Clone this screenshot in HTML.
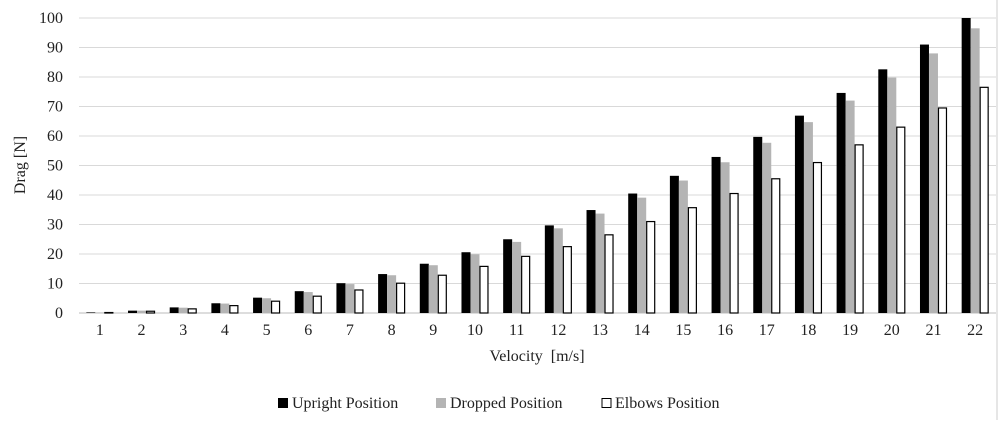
<!DOCTYPE html>
<html><head><meta charset="utf-8"><style>
body{margin:0;background:#fff;}
svg text{font-family:"Liberation Serif",serif;font-size:16px;fill:#222;}
</style></head><body>
<svg id="chart" width="1000" height="420" xmlns="http://www.w3.org/2000/svg">
<g id="grid"></g><g id="bars"></g><g id="labels"></g>
<text x="25" y="165" text-anchor="middle" transform="rotate(-90 25 165)">Drag [N]</text>
<text x="537" y="361" text-anchor="middle" xml:space="preserve">Velocity  [m/s]</text>
<g>
<rect x="278" y="398" width="10" height="10" fill="#000"/>
<text x="292" y="408">Upright Position</text>
<rect x="436" y="398" width="10" height="10" fill="#b4b4b4"/>
<text x="450" y="408">Dropped Position</text>
<rect x="602" y="398.5" width="9" height="9" fill="#fff" stroke="#000"/>
<text x="615" y="408">Elbows Position</text>
</g>
</svg>
<script>
const categories=[1,2,3,4,5,6,7,8,9,10,11,12,13,14,15,16,17,18,19,20,21,22];
const upright=[0.2,0.8,1.9,3.3,5.2,7.4,10.1,13.2,16.7,20.6,25,29.7,34.9,40.5,46.5,52.9,59.7,66.9,74.6,82.6,91,100];
const dropped=[0.2,0.8,1.8,3.2,5,7.1,9.8,12.8,16.2,19.9,24.1,28.7,33.7,39.1,44.9,51.1,57.7,64.7,72,79.8,88,96.5];
const elbows=[0.16,0.6,1.4,2.5,4,5.7,7.8,10.1,12.8,15.8,19.2,22.5,26.5,31,35.7,40.5,45.5,51,57,63,69.5,76.5];
const yTicks=[0,10,20,30,40,50,60,70,80,90,100];
const NS="http://www.w3.org/2000/svg";
const left=79,right=996,y0=313,y100=18;
const step=(right-left)/categories.length;
const y=v=>y0-(v/100)*(y0-y100);
const xc=i=>left+step*(i+0.5);
function mk(t,a,p){const e=document.createElementNS(NS,t);for(const k in a)e.setAttribute(k,a[k]);p.appendChild(e);return e;}
const grid=document.getElementById('grid'),bars=document.getElementById('bars'),labels=document.getElementById('labels');
yTicks.forEach(t=>{
  const l=mk('line',{x1:left,x2:right,y1:y(t),y2:y(t),stroke:t===0?'#bbb':'#d9d9d9','stroke-width':1},grid);
  
  
  const tx=mk('text',{x:63,y:y(t)+5,'text-anchor':'end'},labels);
  tx.textContent=t;
  
  
});
const rb=mk('line',{x1:997,x2:997,y1:0,y2:420,stroke:'#ccc'},grid);


const bw=9;
categories.forEach((c,i)=>{
  const cx=xc(i);
  const series=[[upright,'#000','none',-13.5],[dropped,'#b4b4b4','none',-4.5],[elbows,'#fff','#000',4.5]];
  series.forEach((s,k)=>{
    const v=s[0][i];
    const r=mk('rect',{x:cx+s[3]+(k===2?0.5:0),y:y(v),width:k===2?bw-1:bw,height:Math.max(0.5,y0-y(v)),fill:s[1],stroke:s[2],'stroke-width':1.2},bars);
    
    
  });
  const tx=mk('text',{x:cx,y:335,'text-anchor':'middle'},labels);
  tx.textContent=c;
  
  
});
</script>
</body></html>
